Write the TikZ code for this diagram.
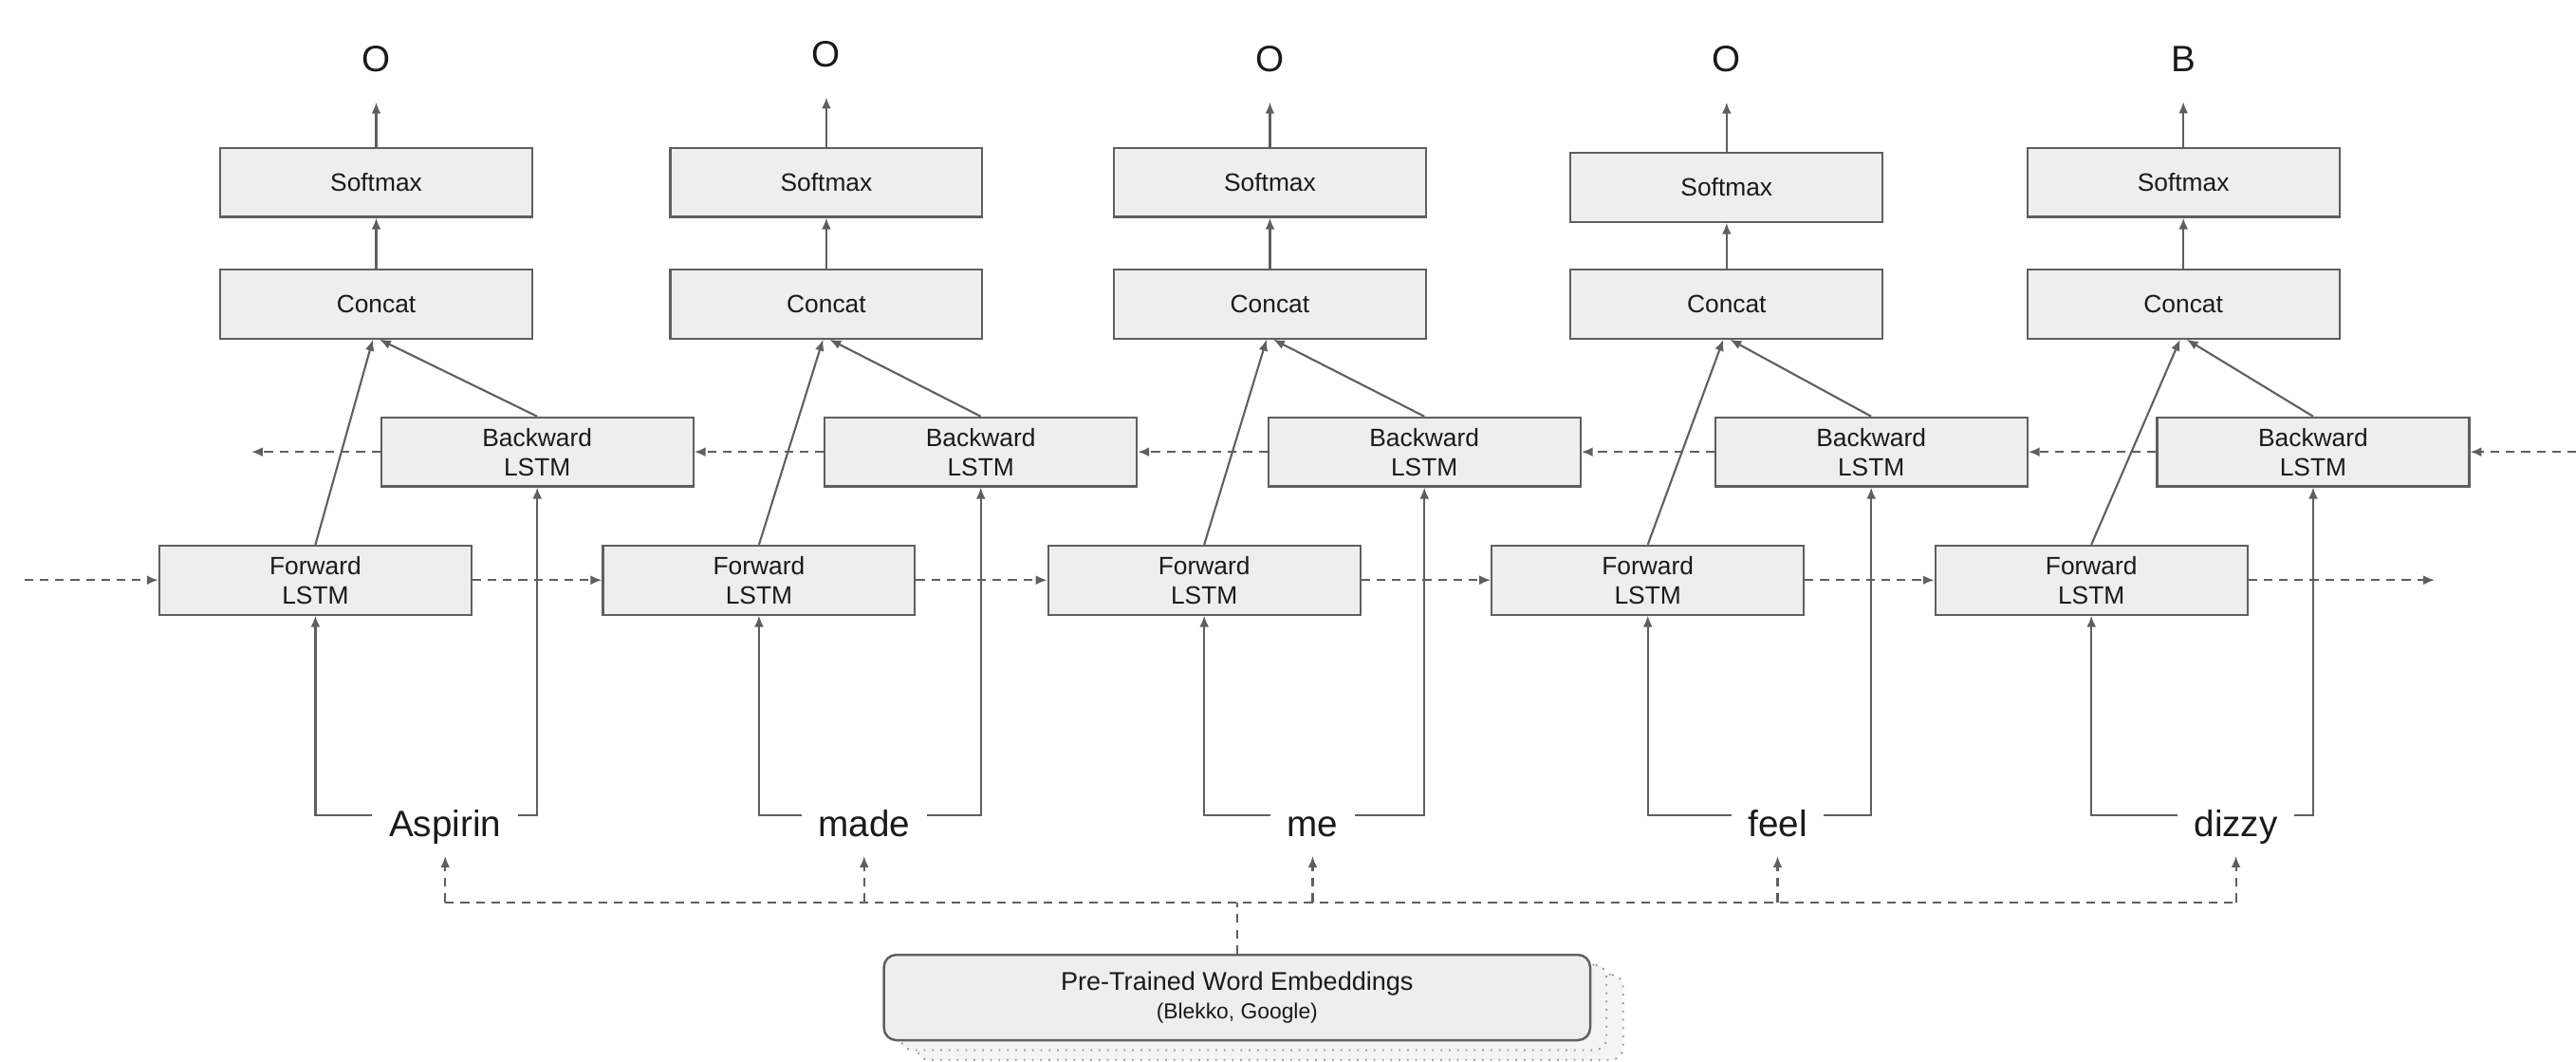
\documentclass[tikz,border=0pt]{standalone}
\usepackage{fontspec}
\setmainfont{Liberation Sans}
\usetikzlibrary{arrows.meta,calc}
\definecolor{boxfill}{HTML}{EEEEEE}
\definecolor{edge}{HTML}{5F5F5F}
\definecolor{ink}{HTML}{1A1A1A}
\definecolor{shfill}{HTML}{F4F4F4}
\begin{document}
\begin{tikzpicture}[x=0.017315cm,y=-0.017315cm,
  box/.style={draw=edge,fill=boxfill,line width=0.6pt,minimum width=3.29cm,minimum height=0.727cm,inner sep=0pt,font=\fontsize{7.5}{8.8}\selectfont,text=ink,align=center},
  conn/.style={draw=edge,line width=0.6pt},
  arr/.style={conn,-{Latex[length=3.4pt,width=2.8pt]}},
  dashpat/.style={dash pattern=on 2.6pt off 2pt},
  darr/.style={arr,dashpat},
  word/.style={font=\fontsize{11}{13}\selectfont,text=ink,inner xsep=0.17cm,inner ysep=0.12cm,text height=0.29cm,text depth=0.08cm,anchor=base},
  lab/.style={font=\fontsize{11}{13}\selectfont,text=ink,inner sep=0pt},
  embbox/.style={draw=edge,fill=boxfill,line width=0.7pt,rounded corners=0.13cm,minimum width=7.445cm,minimum height=0.9cm,align=center,text=ink},
  shbox/.style={draw=edge!70,fill=shfill,line width=0.5pt,dotted,rounded corners=0.13cm,minimum width=7.445cm,minimum height=0.9cm}]
\useasboundingbox (0,0) rectangle (1568,645.7);

% columns: index / softmax x / softmax y / backward x / forward x / word x / word / label / label y
\foreach \i/\sx/\sy/\bx/\fx/\wx/\wt/\lt/\ly in {
  1/229/111/327/192/271/Aspirin/O/36,
  2/503/111/597/462/526/made/O/33,
  3/773/111/867/733/799/me/O/36,
  4/1051/114/1139/1003/1082/feel/O/36,
  5/1329/111/1408/1273/1361/dizzy/B/36}{
  \node[lab] (lab\i) at (\sx,\ly) {\lt};
  \node[box] (sm\i) at (\sx,\sy) {Softmax};
  \node[box] (cc\i) at (\sx,185) {Concat};
  \node[box] (bw\i) at (\bx,275) {Backward\\LSTM};
  \node[box] (fw\i) at (\fx,353) {Forward\\LSTM};
  \node[word] (w\i) at (\wx,509) {\wt};
  \draw[arr,shorten >=0.31cm] (sm\i.north) -- (lab\i.south);
  \draw[arr] (cc\i.north) -- (sm\i.south);
  \draw[arr] (fw\i.north) -- ([xshift=-1pt]cc\i.south);
  \draw[arr] (bw\i.north) -- ([xshift=1pt]cc\i.south);
  \draw[arr] ($(w\i.base west)+(0,-13)$) -| (fw\i.south);
  \draw[arr] ($(w\i.base east)+(0,-13)$) -| (bw\i.south);
}

% recurrent connections
\coordinate (fin) at (15,353);
\coordinate (fout) at (1482,353);
\coordinate (bin) at (1568,275);
\coordinate (bout) at (153,275);
\draw[darr] (fin) -- (fw1.west);
\foreach \a/\b in {1/2,2/3,3/4,4/5}{
  \draw[darr] (fw\a.east) -- (fw\b.west);
  \draw[darr] (bw\b.west) -- (bw\a.east);
}
\draw[darr] (fw5.east) -- (fout);
\draw[darr] (bin) -- (bw5.east);
\draw[darr] (bw1.west) -- (bout);

% embeddings
\node[shbox] (emb2) at (773,619) {};
\node[shbox] (emb1) at (763,613) {};
\node[embbox] (emb) at (753,607) {{\fontsize{7.7}{9}\selectfont Pre-Trained Word Embeddings}\\[-3.5pt]{\fontsize{6.5}{8}\selectfont (Blekko, Google)}};
\coordinate (hub) at (753,549);
\draw[conn,dashpat] (emb.north) -- (hub);
\draw[conn,dashpat] (w1.south |- hub) -- (w5.south |- hub);
\foreach \i in {1,...,5}{
  \draw[darr] (w\i.south |- hub) -- (w\i.south);
}
\end{tikzpicture}
\end{document}
